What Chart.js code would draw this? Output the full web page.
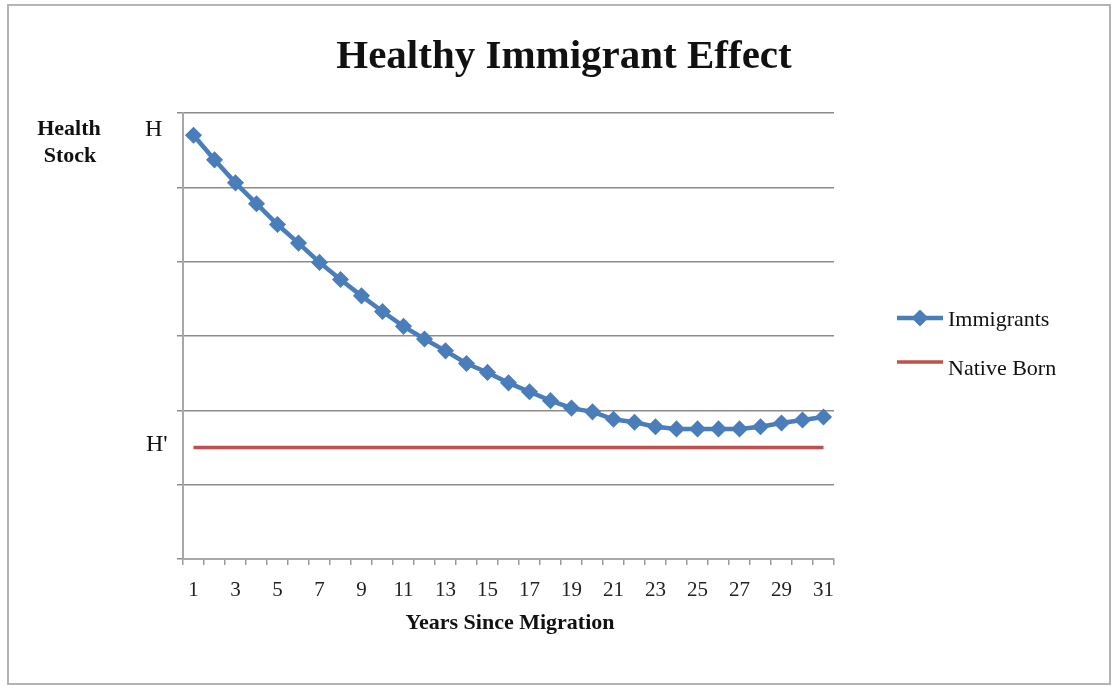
<!DOCTYPE html>
<html>
<head>
<meta charset="utf-8">
<script src="https://cdn.jsdelivr.net/npm/chart.js@4/dist/chart.umd.min.js"></script>
<style>
  html, body { margin: 0; padding: 0; background: #ffffff; }
  canvas { display: block; }
</style>
</head>
<body>
<canvas id="chart" width="1113" height="687"></canvas>
<script>
// Years since migration (category axis)
const years = ['1','2','3','4','5','6','7','8','9','10','11','12','13','14','15','16',
               '17','18','19','20','21','22','23','24','25','26','27','28','29','30','31'];

// Health stock of immigrants, declining toward the native level
const immigrants = [57.0, 53.7, 50.6, 47.8, 45.0, 42.5, 39.9, 37.6, 35.4, 33.3, 31.3,
                    29.6, 28.0, 26.3, 25.1, 23.7, 22.5, 21.3, 20.3, 19.8, 18.8, 18.4,
                    17.8, 17.5, 17.5, 17.5, 17.5, 17.8, 18.3, 18.7, 19.1];

// Health stock of the native born (flat)
const nativeBorn = [15, 15, 15, 15, 15, 15, 15, 15, 15, 15, 15, 15, 15, 15, 15, 15,
                    15, 15, 15, 15, 15, 15, 15, 15, 15, 15, 15, 15, 15, 15, 15];

const seriesNames = ['Immigrants', 'Native Born'];
const titleText = 'Healthy Immigrant Effect';
const xTitle = 'Years Since Migration';
const yTitleLines = ['Health', 'Stock'];
const levelLabels = ['H', "H'"];

const SERIF = '"Liberation Serif", "Times New Roman", serif';
const BLUE = '#4a7ebb';
const RED = '#c0504d';

function diamond(ctx, x, y, r) {
  ctx.beginPath();
  ctx.moveTo(x - r, y);
  ctx.lineTo(x, y - r);
  ctx.lineTo(x + r, y);
  ctx.lineTo(x, y + r);
  ctx.closePath();
  ctx.fill();
}

// Frame, titles, level labels and legend
const decorations = {
  id: 'decorations',
  beforeDraw(chart) {
    const ctx = chart.ctx;
    ctx.save();
    ctx.fillStyle = '#ffffff';
    ctx.fillRect(0, 0, chart.width, chart.height);
    ctx.restore();
  },
  afterDraw(chart) {
    const ctx = chart.ctx;
    const y = chart.scales.y;
    ctx.save();

    // outer frame
    ctx.strokeStyle = '#b4b4b4';
    ctx.lineWidth = 2;
    ctx.strokeRect(8, 5, 1102, 679);

    ctx.fillStyle = '#111111';
    ctx.textAlign = 'center';
    ctx.textBaseline = 'alphabetic';

    // title
    ctx.font = 'bold 41px ' + SERIF;
    ctx.fillText(titleText, 564, 68);

    // y-axis caption
    ctx.font = 'bold 22px ' + SERIF;
    ctx.fillText(yTitleLines[0], 69, 135);
    ctx.fillText(yTitleLines[1], 70, 162);

    // x-axis caption
    ctx.fillText(xTitle, 510, 629);

    // level labels beside the axis
    ctx.font = '24px ' + SERIF;
    ctx.textAlign = 'left';
    ctx.textBaseline = 'middle';
    ctx.fillText(levelLabels[0], 145, y.getPixelForValue(immigrants[0]) - 6);
    ctx.fillText(levelLabels[1], 146, y.getPixelForValue(nativeBorn[0]) - 3);

    // legend
    const ds = chart.data.datasets;
    const rows = [318, 362];
    ctx.font = '22px ' + SERIF;
    ds.forEach((d, i) => {
      const ly = rows[i];
      ctx.strokeStyle = d.borderColor;
      ctx.lineWidth = d.borderWidth;
      ctx.beginPath();
      ctx.moveTo(897, ly);
      ctx.lineTo(943, ly);
      ctx.stroke();
      if (d.pointRadius > 0) {
        ctx.fillStyle = d.pointBackgroundColor;
        diamond(ctx, 920, ly, d.pointRadius + 1);
      }
      ctx.fillStyle = '#111111';
      ctx.textBaseline = 'alphabetic';
      ctx.fillText(d.label, 948, ly + 8 + (i === 1 ? 5 : 0));
    });
    ctx.restore();
  }
};

new Chart(document.getElementById('chart'), {
  type: 'line',
  data: {
    labels: years,
    datasets: [
      {
        label: seriesNames[0],
        data: immigrants,
        borderColor: BLUE,
        backgroundColor: BLUE,
        borderWidth: 4.5,
        pointStyle: 'rectRot',
        pointRadius: 7.5,
        pointBackgroundColor: BLUE,
        pointBorderColor: BLUE,
        pointBorderWidth: 1.5,
        tension: 0,
        order: 1
      },
      {
        label: seriesNames[1],
        data: nativeBorn,
        borderColor: RED,
        backgroundColor: RED,
        borderWidth: 3.5,
        pointRadius: 0,
        tension: 0,
        order: 2
      }
    ]
  },
  options: {
    responsive: false,
    animation: false,
    devicePixelRatio: 1,
    layout: { padding: { top: 113, right: 279, left: 0, bottom: 0 } },
    plugins: {
      legend: { display: false },
      title: { display: false },
      tooltip: { enabled: false }
    },
    scales: {
      x: {
        type: 'category',
        offset: true,
        grid: {
          offset: true,
          drawOnChartArea: false,
          drawTicks: true,
          tickLength: 6,
          color: '#9a9a9a',
          lineWidth: 1.5
        },
        border: { color: '#a8a8a8', width: 2 },
        ticks: {
          autoSkip: false,
          maxRotation: 0,
          minRotation: 0,
          padding: 13,
          color: '#222222',
          font: { family: SERIF, size: 21 },
          callback(value, index) {
            return index % 2 === 0 ? this.getLabelForValue(value) : '';
          }
        },
        afterFit(scale) { scale.height = 128; }
      },
      y: {
        min: 0,
        max: 60,
        grid: {
          color: '#8c8c8c',
          lineWidth: 1.5,
          drawTicks: true,
          tickLength: 6
        },
        border: { color: '#a8a8a8', width: 2 },
        ticks: { stepSize: 10, display: false },
        afterFit(scale) { scale.width = 183; }
      }
    }
  },
  plugins: [decorations]
});
</script>
</body>
</html>
